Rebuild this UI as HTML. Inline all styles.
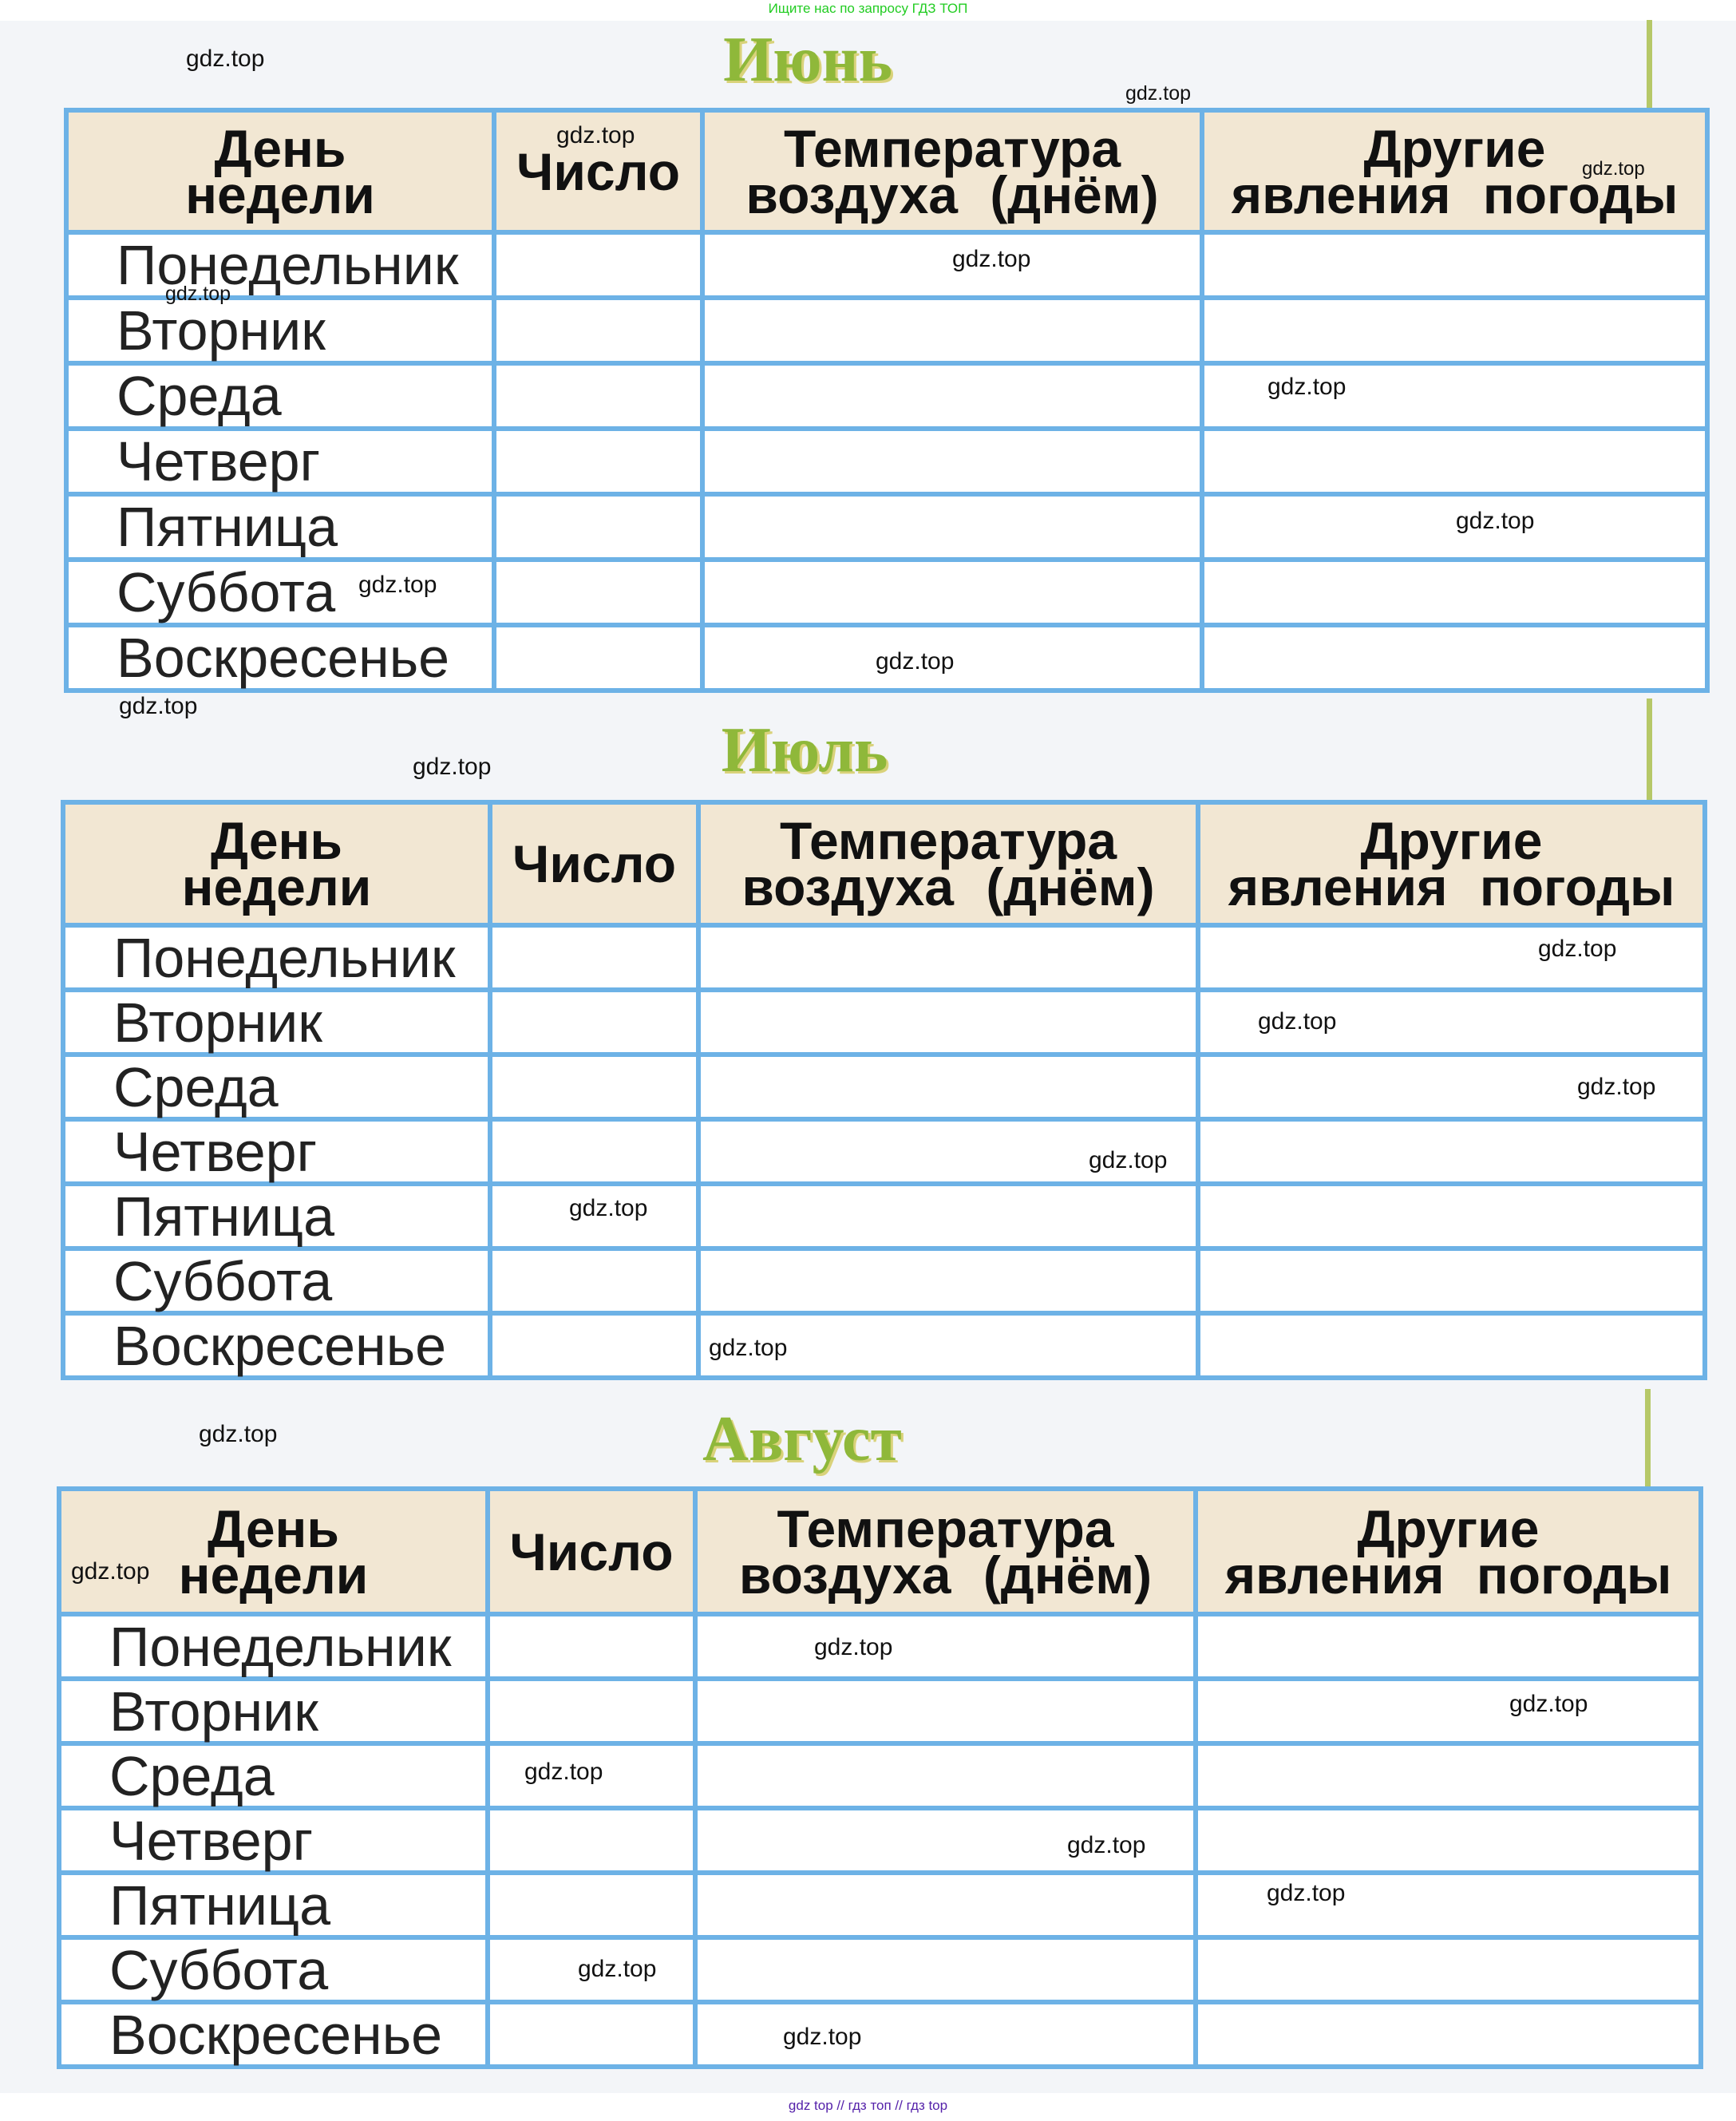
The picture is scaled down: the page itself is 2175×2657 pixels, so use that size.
<!DOCTYPE html>
<html><head><meta charset="utf-8">
<style>
html,body{margin:0;padding:0}
body{width:2175px;height:2657px;background:#f3f5f8;position:relative;overflow:hidden;font-family:"Liberation Sans","Noto Sans CJK SC",sans-serif}
.topbar{position:absolute;left:0;top:0;width:2175px;height:26px;background:#fff;text-align:center;color:#22cc22;font-size:17px;line-height:22px}
.botbar{position:absolute;left:0;top:2622px;width:2175px;height:35px;background:#fff;text-align:center;color:#5522aa;font-size:17px;line-height:32px}
.title{position:absolute;font-family:"Liberation Serif",serif;font-weight:bold;font-size:80px;color:#8fb83a;text-shadow:3px 3px 0 #d9d27a;transform:translateX(-50%)}
table{position:absolute;border-collapse:collapse;background:#fff;table-layout:fixed}
td{border:6px solid #6db2e6;padding:0}
tr.h td{background:#f2e7d3;font-weight:bold;font-size:66px;line-height:58px;text-align:center;color:#111;word-spacing:22px}
tr.r td{height:76px}
#t2 tr.r td{height:75px}
#t3 tr.r td{height:75px}
tr.r td.d{font-size:70px;color:#222;padding-left:60px;line-height:70px;white-space:nowrap}
.w{position:absolute;font-size:30px;color:#111}
.vline{position:absolute;width:7px;background:#b6c868}
</style></head><body>
<div class="topbar">Ищите нас по запросу ГДЗ ТОП</div>
<div class="vline" style="left:2063px;top:25px;height:120px"></div>
<div class="vline" style="left:2063px;top:875px;height:130px"></div>
<div class="vline" style="left:2061px;top:1740px;height:130px"></div>

<div class="title" style="left:1012px;top:30px">Июнь</div>
<table id="t1" style="left:80px;top:135px;width:2056px">
<col style="width:536px"><col style="width:261px"><col style="width:626px"><col style="width:633px">
<tr class="h" style="height:153px"><td>День<br>недели</td><td>Число</td><td>Температура<br>воздуха (днём)</td><td>Другие<br>явления погоды</td></tr>
<tr class="r"><td class="d">Понедельник</td><td></td><td></td><td></td></tr>
<tr class="r"><td class="d">Вторник</td><td></td><td></td><td></td></tr>
<tr class="r"><td class="d">Среда</td><td></td><td></td><td></td></tr>
<tr class="r"><td class="d">Четверг</td><td></td><td></td><td></td></tr>
<tr class="r"><td class="d">Пятница</td><td></td><td></td><td></td></tr>
<tr class="r"><td class="d">Суббота</td><td></td><td></td><td></td></tr>
<tr class="r"><td class="d">Воскресенье</td><td></td><td></td><td></td></tr>
</table>

<div class="title" style="left:1008px;top:895px">Июль</div>
<table id="t2" style="left:76px;top:1002px;width:2057px">
<col style="width:535px"><col style="width:261px"><col style="width:626px"><col style="width:635px">
<tr class="h" style="height:154px"><td>День<br>недели</td><td>Число</td><td>Температура<br>воздуха (днём)</td><td>Другие<br>явления погоды</td></tr>
<tr class="r"><td class="d">Понедельник</td><td></td><td></td><td></td></tr>
<tr class="r"><td class="d">Вторник</td><td></td><td></td><td></td></tr>
<tr class="r"><td class="d">Среда</td><td></td><td></td><td></td></tr>
<tr class="r"><td class="d">Четверг</td><td></td><td></td><td></td></tr>
<tr class="r"><td class="d">Пятница</td><td></td><td></td><td></td></tr>
<tr class="r"><td class="d">Суббота</td><td></td><td></td><td></td></tr>
<tr class="r"><td class="d">Воскресенье</td><td></td><td></td><td></td></tr>
</table>

<div class="title" style="left:1005px;top:1758px">Август</div>
<table id="t3" style="left:71px;top:1862px;width:2057px">
<col style="width:537px"><col style="width:260px"><col style="width:627px"><col style="width:633px">
<tr class="h" style="height:157px"><td>День<br>недели</td><td>Число</td><td>Температура<br>воздуха (днём)</td><td>Другие<br>явления погоды</td></tr>
<tr class="r"><td class="d">Понедельник</td><td></td><td></td><td></td></tr>
<tr class="r"><td class="d">Вторник</td><td></td><td></td><td></td></tr>
<tr class="r"><td class="d">Среда</td><td></td><td></td><td></td></tr>
<tr class="r"><td class="d">Четверг</td><td></td><td></td><td></td></tr>
<tr class="r"><td class="d">Пятница</td><td></td><td></td><td></td></tr>
<tr class="r"><td class="d">Суббота</td><td></td><td></td><td></td></tr>
<tr class="r"><td class="d">Воскресенье</td><td></td><td></td><td></td></tr>
</table>

<div class="w" style="left:233px;top:57px">gdz.top</div>
<div class="w" style="left:1410px;top:103px;font-size:25px">gdz.top</div>
<div class="w" style="left:697px;top:153px">gdz.top</div>
<div class="w" style="left:1982px;top:198px;font-size:24px">gdz.top</div>
<div class="w" style="left:1193px;top:308px">gdz.top</div>
<div class="w" style="left:207px;top:354px;font-size:25px">gdz.top</div>
<div class="w" style="left:1588px;top:468px">gdz.top</div>
<div class="w" style="left:449px;top:716px">gdz.top</div>
<div class="w" style="left:1824px;top:636px">gdz.top</div>
<div class="w" style="left:1097px;top:812px">gdz.top</div>
<div class="w" style="left:149px;top:868px">gdz.top</div>
<div class="w" style="left:517px;top:944px">gdz.top</div>
<div class="w" style="left:1927px;top:1172px">gdz.top</div>
<div class="w" style="left:1576px;top:1263px">gdz.top</div>
<div class="w" style="left:1976px;top:1345px">gdz.top</div>
<div class="w" style="left:1364px;top:1437px">gdz.top</div>
<div class="w" style="left:713px;top:1497px">gdz.top</div>
<div class="w" style="left:888px;top:1672px">gdz.top</div>
<div class="w" style="left:249px;top:1780px">gdz.top</div>
<div class="w" style="left:89px;top:1952px">gdz.top</div>
<div class="w" style="left:1020px;top:2047px">gdz.top</div>
<div class="w" style="left:1891px;top:2118px">gdz.top</div>
<div class="w" style="left:657px;top:2203px">gdz.top</div>
<div class="w" style="left:1337px;top:2295px">gdz.top</div>
<div class="w" style="left:1587px;top:2355px">gdz.top</div>
<div class="w" style="left:724px;top:2450px">gdz.top</div>
<div class="w" style="left:981px;top:2535px">gdz.top</div>
<div class="botbar">gdz top // гдз топ // гдз top</div>
</body></html>
